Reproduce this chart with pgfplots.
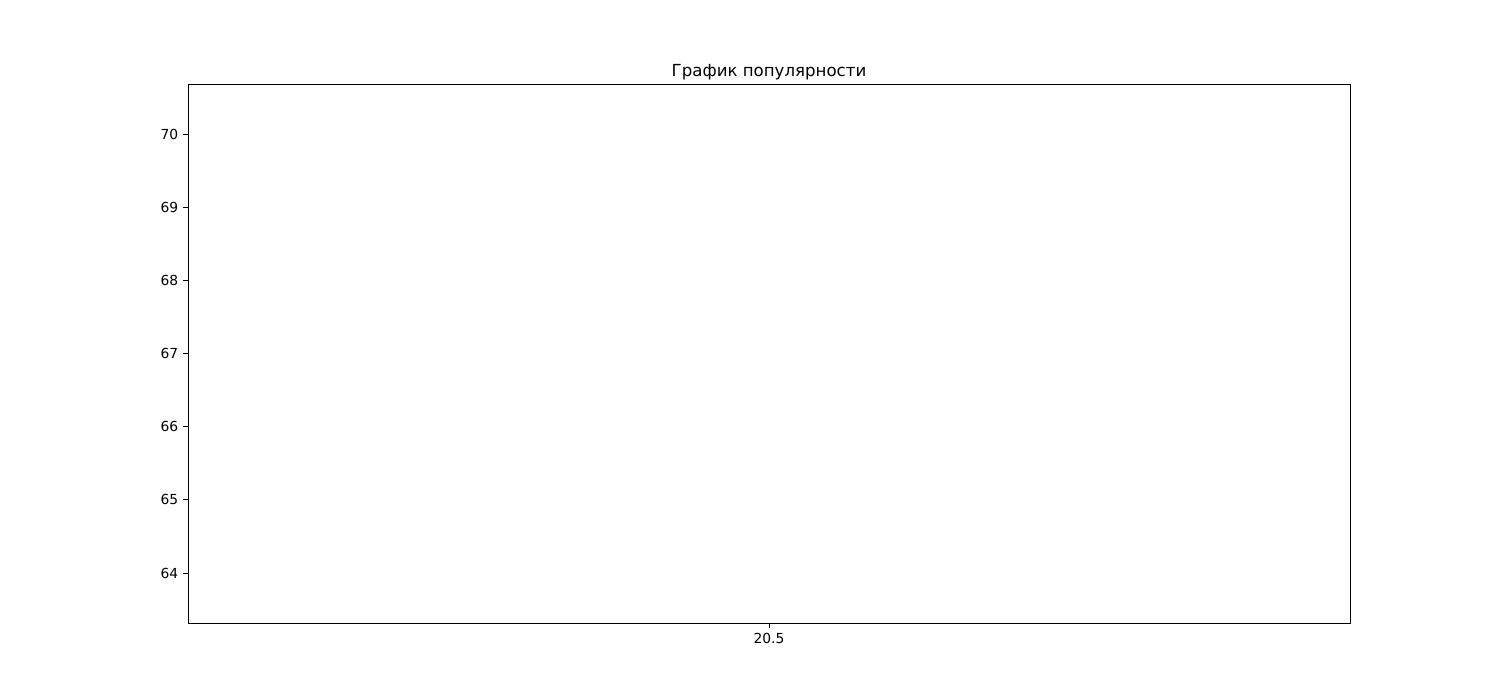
\documentclass[border=0pt]{standalone}
\usepackage{pgfplots}
\pgfplotsset{compat=1.18}
\usepackage{fontspec}
\setmainfont{DejaVu Sans}
\begin{document}
\begin{tikzpicture}
\useasboundingbox (-1.88in,-0.77in) rectangle (13.12in,6.23in);
\begin{axis}[
  at={(0,0)}, anchor=south west,
  scale only axis,
  width=11.62in, height=5.39in,
  xmin=20.45, xmax=20.55,
  ymin=63.317, ymax=70.683,
  xtick={20.5}, xticklabels={20.5},
  ytick={64,65,66,67,68,69,70},
  xtick pos=bottom, ytick pos=left,
  tick align=outside,
  major tick length=3.5pt,
  tick style={black, line width=0.6pt},
  axis line style={line width=0.6pt},
  ticklabel style={font=\fontsize{10}{12}\selectfont},
  /pgf/number format/assume math mode=true,
  title={График популярности},
  title style={font=\fontsize{12}{14}\selectfont, yshift=-6.5pt},
]
\addplot[draw=none, forget plot] coordinates {(20.5,67)};
\end{axis}
\end{tikzpicture}
\end{document}
